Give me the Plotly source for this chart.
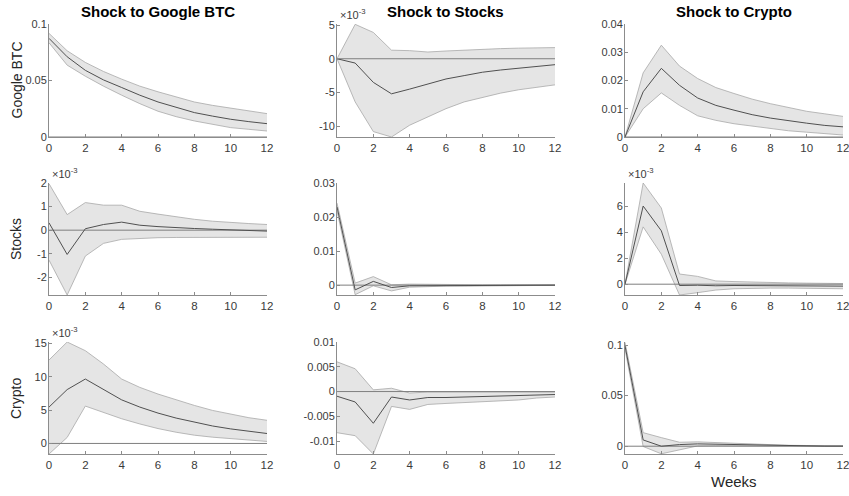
import plotly.graph_objects as go

weeks = list(range(13))

# Row 1: response of Google BTC
gb_gb_mid = [0.0873, 0.071, 0.059, 0.0505, 0.0438, 0.037, 0.031, 0.026, 0.0216, 0.0185, 0.0157, 0.0136, 0.0118]
gb_gb_hi = [0.0917, 0.0763, 0.066, 0.058, 0.0512, 0.045, 0.040, 0.0352, 0.031, 0.028, 0.0257, 0.023, 0.0207]
gb_gb_lo = [0.0834, 0.0636, 0.0538, 0.045, 0.037, 0.0295, 0.0228, 0.018, 0.0142, 0.011, 0.0083, 0.0068, 0.0053]

# x10^-3
gb_st_mid = [0, -0.64, -3.5, -5.2, -4.5, -3.7, -3.0, -2.5, -2.0, -1.67, -1.37, -1.13, -0.88]
gb_st_hi = [0, 5.1, 3.9, 1.27, 1.2, 1.0, 1.15, 1.3, 1.4, 1.5, 1.57, 1.6, 1.65]
gb_st_lo = [0, -6.4, -10.8, -11.6, -9.85, -8.6, -7.4, -6.4, -5.7, -5.1, -4.6, -4.2, -3.87]

gb_cr_mid = [0, 0.016, 0.0243, 0.0183, 0.0138, 0.0112, 0.0095, 0.0079, 0.0067, 0.0057, 0.0049, 0.0041, 0.0036]
gb_cr_hi = [0, 0.0227, 0.0325, 0.0251, 0.0207, 0.0175, 0.0154, 0.0134, 0.0118, 0.0104, 0.0091, 0.0082, 0.0073]
gb_cr_lo = [0, 0.010, 0.0156, 0.0112, 0.0075, 0.0059, 0.0047, 0.0038, 0.003, 0.0022, 0.0017, 0.0012, 0.0007]

# Row 2: response of Stocks (x10^-3)
st_gb_mid = [0.31, -1.03, 0.06, 0.24, 0.34, 0.21, 0.15, 0.1, 0.07, 0.04, 0.01, -0.01, -0.04]
st_gb_hi = [1.97, 0.66, 1.17, 1.06, 1.06, 0.8, 0.68, 0.56, 0.46, 0.38, 0.32, 0.28, 0.24]
st_gb_lo = [-1.27, -2.75, -1.1, -0.56, -0.39, -0.34, -0.32, -0.31, -0.31, -0.3, -0.3, -0.3, -0.3]

st_st_mid = [0.023, -0.0014, 0.0011, -0.0007, -0.0002, -0.0002, -0.0001, -0.0001, -0.0001, -0.0001, 0.0, 0.0, 0.0]
st_st_hi = [0.0241, 0.0006, 0.0025, 0.0001, 0.0003, 0.0002, 0.0001, 0.0001, 0.0001, 0.0001, 0.0001, 0.0001, 0.0001]
st_st_lo = [0.0218, -0.0028, -0.0002, -0.0017, -0.0006, -0.0004, -0.0003, -0.0003, -0.0002, -0.0002, -0.0002, -0.0001, -0.0001]

# x10^-3
st_cr_mid = [0, 6.0, 4.1, -0.1, -0.08, -0.12, -0.1, -0.1, -0.12, -0.12, -0.13, -0.14, -0.15]
st_cr_hi = [0, 7.77, 5.85, 0.78, 0.6, 0.25, 0.2, 0.15, 0.12, 0.1, 0.08, 0.06, 0.05]
st_cr_lo = [0, 4.4, 2.3, -0.83, -0.65, -0.45, -0.35, -0.3, -0.3, -0.3, -0.32, -0.33, -0.35]

# Row 3: response of Crypto
# x10^-3
cr_gb_mid = [5.45, 8.07, 9.65, 8.07, 6.53, 5.45, 4.55, 3.8, 3.17, 2.62, 2.18, 1.83, 1.49]
cr_gb_hi = [12.5, 15.2, 13.9, 11.9, 9.65, 8.4, 7.4, 6.5, 5.7, 4.95, 4.4, 3.86, 3.47]
cr_gb_lo = [-1.58, 0.9, 5.6, 4.6, 3.7, 2.92, 2.23, 1.68, 1.24, 0.94, 0.69, 0.5, 0.3]

cr_st_mid = [-0.00094, -0.0021, -0.0064, -0.0011, -0.0017, -0.0012, -0.0012, -0.0011, -0.001, -0.00094, -0.00087, -0.00067, -0.0006]
cr_st_hi = [0.006, 0.0046, 0.00034, 0.00067, -0.0003, -0.0001, -0.0001, -0.0001, -0.0001, -0.0001, -0.0001, -0.0001, -0.0001]
cr_st_lo = [-0.0083, -0.0089, -0.0126, -0.003, -0.0036, -0.0026, -0.0024, -0.0022, -0.002, -0.0019, -0.0017, -0.0013, -0.0011]

cr_cr_mid = [0.0993, 0.0062, 0.0, 0.0016, 0.0023, 0.002, 0.0012, 0.0008, 0.0005, 0.0003, 0.0002, 0.0001, 0.0001]
cr_cr_hi = [0.1026, 0.0134, 0.0085, 0.0039, 0.0043, 0.0036, 0.0023, 0.0016, 0.0012, 0.0009, 0.0007, 0.0005, 0.0004]
cr_cr_lo = [0.0962, -0.0003, -0.0075, -0.0033, 0.0003, 0.0006, 0.0005, 0.0003, 0.0002, 0.0001, 0.0, -0.0001, -0.0001]

col_titles = ["Shock to Google BTC", "Shock to Stocks", "Shock to Crypto"]
row_titles = ["Google BTC", "Stocks", "Crypto"]
x_ticks = [0, 2, 4, 6, 8, 10, 12]

panels = [
    [(gb_gb_mid, gb_gb_lo, gb_gb_hi, [0, 0.1], [0, 0.05, 0.1], ["0", "0.05", "0.1"], False),
     (gb_st_mid, gb_st_lo, gb_st_hi, [-11.6, 5.15], [-10, -5, 0, 5], ["-10", "-5", "0", "5"], True),
     (gb_cr_mid, gb_cr_lo, gb_cr_hi, [0, 0.04], [0, 0.01, 0.02, 0.03, 0.04], ["0", "0.01", "0.02", "0.03", "0.04"], False)],
    [(st_gb_mid, st_gb_lo, st_gb_hi, [-2.75, 2.0], [-2, -1, 0, 1, 2], ["-2", "-1", "0", "1", "2"], True),
     (st_st_mid, st_st_lo, st_st_hi, [-0.0029, 0.03], [0, 0.01, 0.02, 0.03], ["0", "0.01", "0.02", "0.03"], False),
     (st_cr_mid, st_cr_lo, st_cr_hi, [-0.83, 7.77], [0, 2, 4, 6], ["0", "2", "4", "6"], True)],
    [(cr_gb_mid, cr_gb_lo, cr_gb_hi, [-1.58, 15.2], [0, 5, 10, 15], ["0", "5", "10", "15"], True),
     (cr_st_mid, cr_st_lo, cr_st_hi, [-0.0126, 0.01], [-0.01, -0.005, 0, 0.005, 0.01], ["-0.01", "-0.005", "0", "0.005", "0.01"], False),
     (cr_cr_mid, cr_cr_lo, cr_cr_hi, [-0.0077, 0.103], [0, 0.05, 0.1], ["0", "0.05", "0.1"], False)],
]

W, H = 849, 496
col_px = [(49, 267), (337, 555), (625, 843)]
row_px = [(24, 137), (183, 295), (342, 454)]

AX = "#8c8c8c"
TXT = "#3a3a3a"
FONT = "Liberation Sans, Arial, sans-serif"

fig = go.Figure()
layout = {}
annotations = []
idx = 0
for r in range(3):
    for c in range(3):
        idx += 1
        mid, lo, hi, yr, tv, tt, scaled = panels[r][c]
        xa = "x" if idx == 1 else f"x{idx}"
        ya = "y" if idx == 1 else f"y{idx}"
        xkey = "xaxis" if idx == 1 else f"xaxis{idx}"
        ykey = "yaxis" if idx == 1 else f"yaxis{idx}"
        fig.add_trace(go.Scatter(x=weeks, y=lo, xaxis=xa, yaxis=ya, mode="lines",
                                 line=dict(color="#a8a8a8", width=0.8), showlegend=False, hoverinfo="skip"))
        fig.add_trace(go.Scatter(x=weeks, y=hi, xaxis=xa, yaxis=ya, mode="lines", fill="tonexty",
                                 fillcolor="#e5e5e5", line=dict(color="#a8a8a8", width=0.8),
                                 showlegend=False, hoverinfo="skip"))
        fig.add_trace(go.Scatter(x=[weeks[0], weeks[-1]], y=[0, 0], xaxis=xa, yaxis=ya, mode="lines",
                                 line=dict(color="#7f7f7f", width=1), showlegend=False, hoverinfo="skip"))
        fig.add_trace(go.Scatter(x=weeks, y=mid, xaxis=xa, yaxis=ya, mode="lines",
                                 line=dict(color="#505050", width=1), showlegend=False))
        x0, x1 = col_px[c]
        y0, y1 = row_px[r]
        layout[xkey] = dict(domain=[x0 / W, x1 / W], anchor=ya, range=[0, 12],
                            tickvals=x_ticks, ticktext=[str(v) for v in x_ticks],
                            showline=True, linecolor=AX, linewidth=1, ticks="inside", ticklen=3,
                            tickcolor=AX, tickfont=dict(size=11.5, color=TXT, family=FONT),
                            showgrid=False, zeroline=False, fixedrange=True, automargin=False,
                            ticklabeloverflow="allow")
        layout[ykey] = dict(domain=[1 - y1 / H, 1 - y0 / H], anchor=xa, range=yr,
                            tickvals=tv, ticktext=tt,
                            showline=True, linecolor=AX, linewidth=1, ticks="inside", ticklen=3,
                            tickcolor=AX, tickfont=dict(size=11, color=TXT, family=FONT),
                            showgrid=False, zeroline=False, fixedrange=True, automargin=False,
                            ticklabeloverflow="allow", ticklabelstandoff=-1)
        if scaled:
            annotations.append(dict(text="×10<sup>-3</sup>", x=(x0 + 1) / W, y=1 - (y0 - 1) / H,
                                    xref="paper", yref="paper", xanchor="left", yanchor="bottom",
                                    showarrow=False, font=dict(size=11, color=TXT, family=FONT)))

for c in range(3):
    x0, x1 = col_px[c]
    annotations.append(dict(text="<b>" + col_titles[c] + "</b>", x=(x0 + x1) / 2 / W, y=1 - 12 / H,
                            xref="paper", yref="paper", xanchor="center", yanchor="middle",
                            showarrow=False, font=dict(size=15, color="#000000", family=FONT)))
for r in range(3):
    y0, y1 = row_px[r]
    annotations.append(dict(text=row_titles[r], x=16 / W, y=1 - (y0 + y1) / 2 / H,
                            xref="paper", yref="paper", xanchor="center", yanchor="middle",
                            textangle=-90, showarrow=False,
                            font=dict(size=14, color="#262626", family=FONT)))
annotations.append(dict(text="Weeks", x=(col_px[2][0] + col_px[2][1]) / 2 / W, y=1 - 481 / H,
                        xref="paper", yref="paper", xanchor="center", yanchor="middle",
                        showarrow=False, font=dict(size=15, color="#262626", family=FONT)))

fig.update_layout(width=W, height=H, margin=dict(l=0, r=0, t=0, b=0),
                  paper_bgcolor="white", plot_bgcolor="white",
                  annotations=annotations, **layout)

fig.write_html("out.html", config={"displayModeBar": False},
               post_script="document.body.style.margin='0';document.body.style.overflow='hidden';")
